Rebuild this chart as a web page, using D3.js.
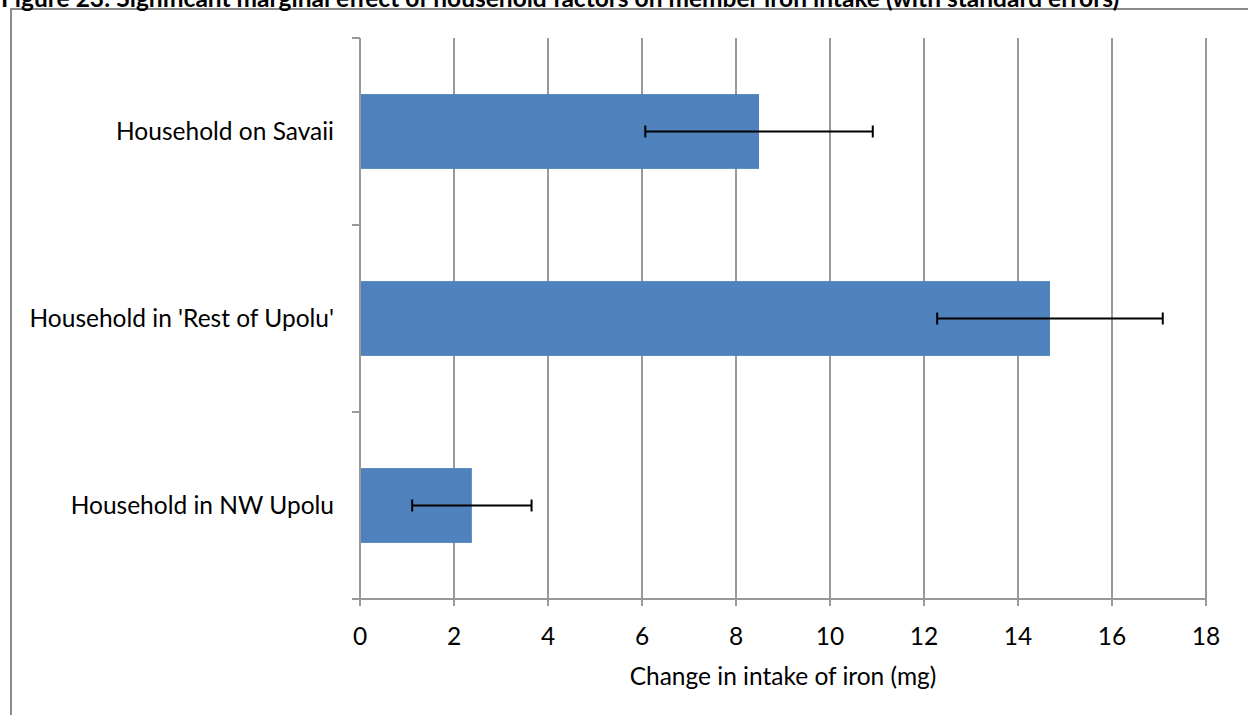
<!DOCTYPE html>
<html><head><meta charset="utf-8">
<script src="https://cdn.jsdelivr.net/npm/d3@7"></script>
<style>body{margin:0;background:#fff}svg{display:block}</style>
</head><body>
<script>
const categories = ["Household on Savaii", "Household in 'Rest of Upolu'", "Household in NW Upolu"];
const values = [8.49, 14.68, 2.38];
const errors = [2.42, 2.40, 1.27];
const xTicks = [0, 2, 4, 6, 8, 10, 12, 14, 16, 18];
const titleText = "Figure 23: Significant marginal effect of household factors on member iron intake (with standard errors)";
const xLabel = "Change in intake of iron (mg)";

const W = 1248, H = 715;
const font = "Lato, 'Open Sans', sans-serif";
const fs = 24.5;
const svg = d3.select("body").append("svg").attr("width", W).attr("height", H);

// frame
svg.append("path").attr("d", `M11,${H} L11,9 L${W},9`).attr("fill","none").attr("stroke","#8c8c8c").attr("stroke-width",2);

svg.append("text").attr("x", 1).attr("y", 7).text(titleText)
  .attr("font-family", font).attr("font-weight", "bold").attr("font-size", fs).attr("fill","#000");

const x = d3.scaleLinear().domain([0, 18]).range([360, 1206]);
const y = d3.scaleBand().domain(categories).range([38, 599]).paddingInner(0.6).paddingOuter(0.3);
const grid = "#999";

// gridlines
svg.append("g").selectAll("line").data(xTicks.filter(d => d > 0)).join("line")
  .attr("x1", d => x(d)).attr("x2", d => x(d)).attr("y1", 38).attr("y2", 606)
  .attr("stroke", grid).attr("stroke-width", 2);
svg.append("line").attr("x1", x(0)).attr("x2", x(0)).attr("y1", 599).attr("y2", 606).attr("stroke", grid).attr("stroke-width", 2);

// bars
svg.append("g").selectAll("rect").data(categories).join("rect")
  .attr("x", x(0)).attr("y", d => y(d)).attr("width", (d,i) => x(values[i]) - x(0)).attr("height", y.bandwidth())
  .attr("fill", "#4F81BD");

// category axis
const yb = d3.scaleLinear().domain([0, 3]).range([38, 599]);
svg.append("line").attr("x1", x(0)).attr("x2", x(0)).attr("y1", 38).attr("y2", 599).attr("stroke", grid).attr("stroke-width", 2);
svg.append("g").selectAll("line").data([0,1,2,3]).join("line")
  .attr("x1", 352).attr("x2", x(0)).attr("y1", d => yb(d)).attr("y2", d => yb(d)).attr("stroke", grid).attr("stroke-width", 2);
svg.append("line").attr("x1", 352).attr("x2", x(18)).attr("y1", 599).attr("y2", 599).attr("stroke", grid).attr("stroke-width", 2);

// error bars
const eb = svg.append("g").attr("stroke", "#000").attr("stroke-width", 2);
categories.forEach((c, i) => {
  const cy = y(c) + y.bandwidth()/2;
  const lo = x(values[i] - errors[i]), hi = x(values[i] + errors[i]);
  eb.append("line").attr("x1", lo).attr("x2", hi).attr("y1", cy).attr("y2", cy);
  eb.append("line").attr("x1", lo).attr("x2", lo).attr("y1", cy-6).attr("y2", cy+6);
  eb.append("line").attr("x1", hi).attr("x2", hi).attr("y1", cy-6).attr("y2", cy+6);
});

// category labels
svg.append("g").selectAll("text").data(categories).join("text")
  .attr("x", 334).attr("y", d => y(d) + y.bandwidth()/2).attr("dy", "0.35em")
  .attr("text-anchor", "end").attr("font-family", font).attr("font-size", fs).attr("fill","#000").text(d => d);

// tick labels
svg.append("g").selectAll("text").data(xTicks).join("text")
  .attr("x", d => x(d)).attr("y", 645).attr("text-anchor", "middle")
  .attr("font-family", font).attr("font-size", fs).attr("fill","#000").text(d => d);

svg.append("text").attr("x", x(9)).attr("y", 685).attr("text-anchor", "middle")
  .attr("font-family", font).attr("font-size", fs).attr("fill","#000").text(xLabel);
</script>
</body></html>
